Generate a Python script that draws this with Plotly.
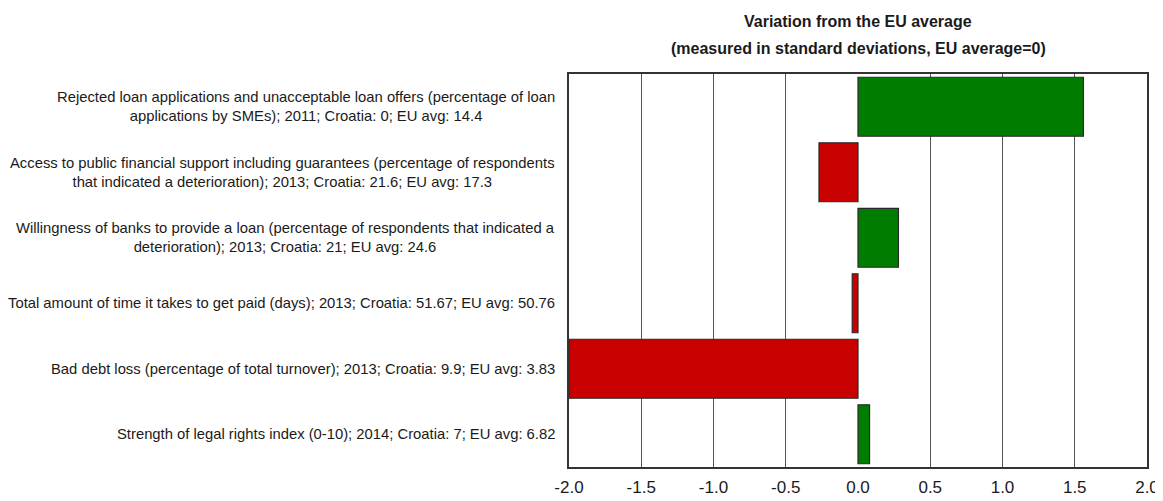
import plotly.graph_objects as go

labels = [
    "Rejected loan applications and unacceptable loan offers (percentage of loan<br>applications by SMEs); 2011; Croatia: 0; EU avg: 14.4",
    "Access to public financial support including guarantees (percentage of respondents<br>that indicated a deterioration); 2013; Croatia: 21.6; EU avg: 17.3",
    "Willingness of banks to provide a loan (percentage of respondents that indicated a<br>deterioration); 2013; Croatia: 21; EU avg: 24.6",
    "Total amount of time it takes to get paid (days); 2013; Croatia: 51.67; EU avg: 50.76",
    "Bad debt loss (percentage of total turnover); 2013; Croatia: 9.9; EU avg: 3.83",
    "Strength of legal rights index (0-10); 2014; Croatia: 7; EU avg: 6.82",
]
variation = [1.56, -0.27, 0.28, -0.04, -2.0, 0.08]
tick_vals = [-2.0, -1.5, -1.0, -0.5, 0.0, 0.5, 1.0, 1.5, 2.0]
tick_text = ["-2.0", "-1.5", "-1.0", "-0.5", "0.0", "0.5", "1.0", "1.5", "2.0"]
title_lines = [
    "Variation from the EU average",
    "(measured in standard deviations, EU average=0)",
]

keys = [f"c{i}" for i in range(len(labels))]
colors = ["#007c00" if v >= 0 else "#c80000" for v in variation]
txt_font = "Liberation Sans Narrow, Arial Narrow, Liberation Sans, Arial"

fig = go.Figure(go.Bar(
    x=variation,
    y=keys,
    orientation="h",
    marker=dict(color=colors, line=dict(color="#2a2a2a", width=1.2)),
    width=0.9,
))

for k, lab in zip(keys, labels):
    fig.add_annotation(
        x=0, xref="paper", xanchor="right", xshift=-12,
        y=k, yref="y", text=lab, showarrow=False, align="center",
        font=dict(family=txt_font, size=14.8, color="#1a1a1a"),
    )

# two-line title, lines placed separately for wider spacing
for line, shift in zip(title_lines, [42, 15]):
    fig.add_annotation(
        x=0.5, xref="paper", xanchor="center",
        y=1, yref="paper", yanchor="bottom", yshift=shift,
        text=f"<b>{line}</b>", showarrow=False,
        font=dict(family=txt_font, size=16, color="#1a1a1a"),
    )

fig.update_layout(
    width=1163, height=501,
    margin=dict(l=561, r=16, t=66, b=34),
    paper_bgcolor="white", plot_bgcolor="white",
    showlegend=False,
)
fig.update_xaxes(
    range=[-2, 2], tickvals=tick_vals, ticktext=tick_text,
    showgrid=True, gridcolor="#555555", gridwidth=1,
    zeroline=True, zerolinecolor="white", zerolinewidth=2,
    showline=True, mirror=True, linecolor="#333333", linewidth=1.5,
    ticks="", ticklabelstandoff=4,
    tickfont=dict(family="Liberation Sans, Arial", size=17, color="#1a1a1a"),
)
fig.update_yaxes(
    autorange="reversed", showticklabels=False, showgrid=False,
    showline=True, mirror=True, linecolor="#333333", linewidth=1.5,
    ticks="",
)

fig.write_html("out.html")
